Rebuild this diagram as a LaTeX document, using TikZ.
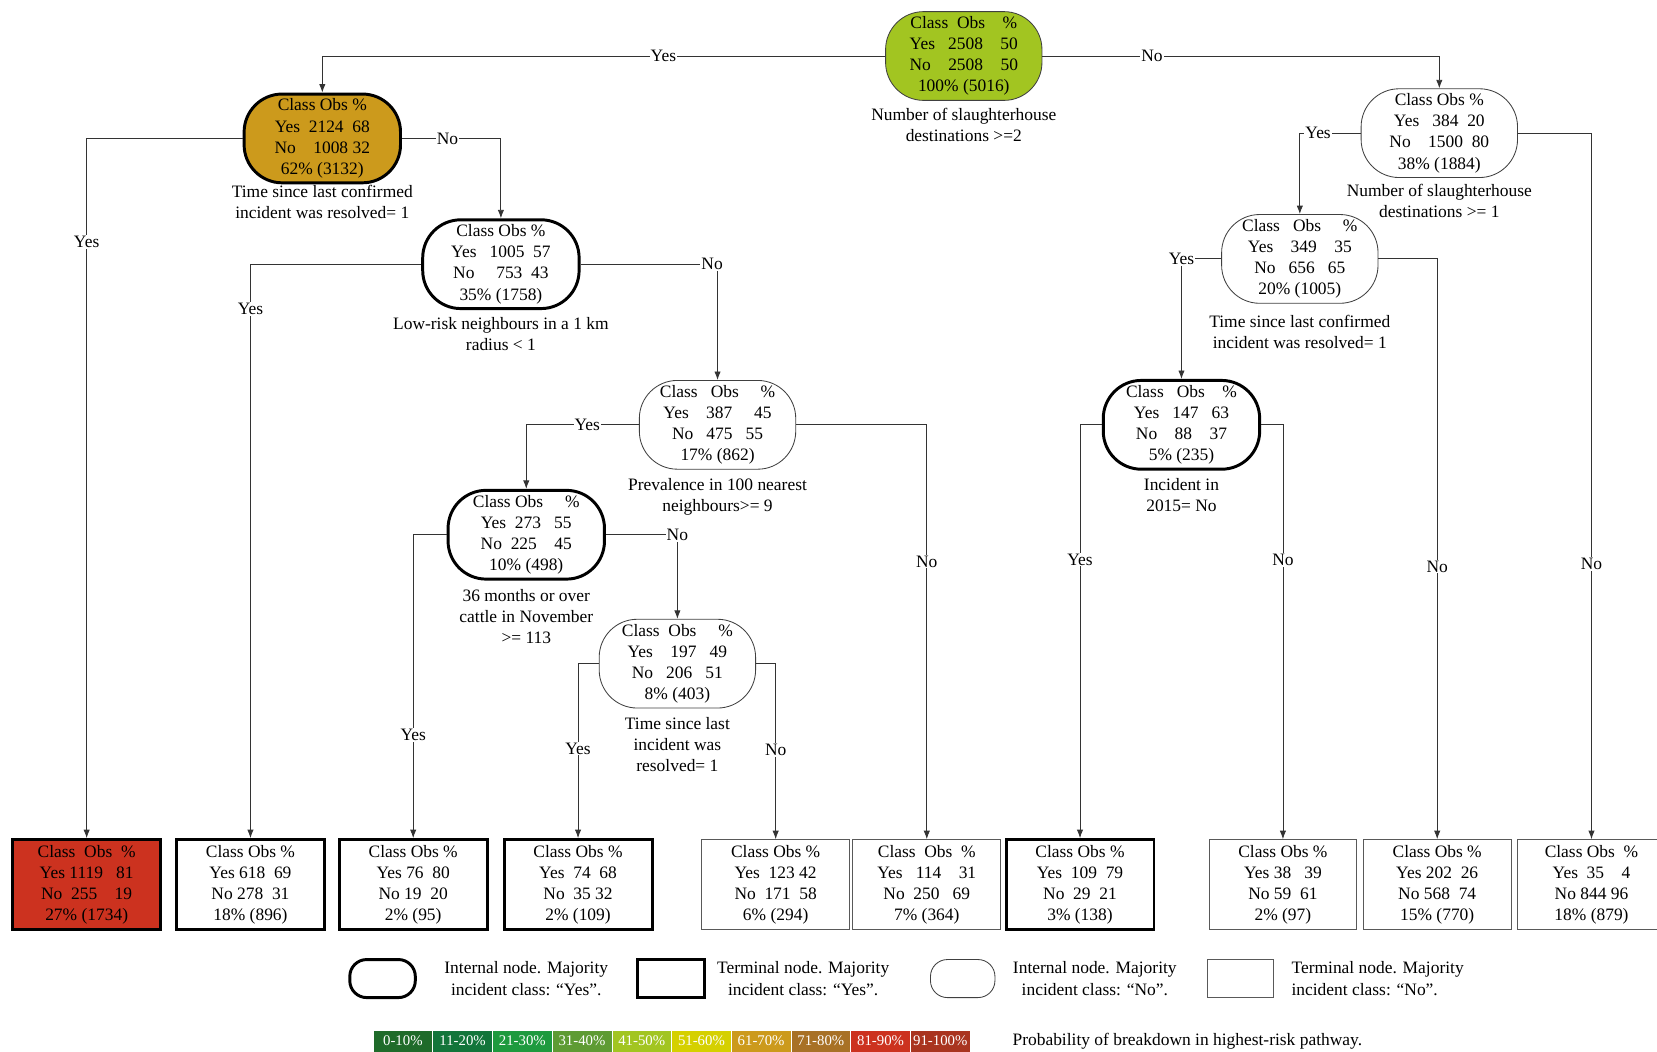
\documentclass[tikz,border=0pt]{standalone}
\usepackage{fontspec}
\setmainfont{Liberation Serif}
\usetikzlibrary{arrows.meta, positioning}
\definecolor{p1}{HTML}{1F6B2A}
\definecolor{p2}{HTML}{12753A}
\definecolor{p3}{HTML}{1E9A3E}
\definecolor{p4}{HTML}{5E9B33}
\definecolor{p5}{HTML}{A2C521}
\definecolor{p6}{HTML}{D5D000}
\definecolor{p7}{HTML}{CC9A1C}
\definecolor{p8}{HTML}{A87126}
\definecolor{p9}{HTML}{CC321F}
\definecolor{p10}{HTML}{A9341F}
\tikzset{
	% internal and terminal nodes
	intyes/.style ={rectangle, rounded corners=36pt, draw=black, line width=2.8pt, minimum width=148pt, minimum height=84pt, align=center, inner sep=1pt},
	intno/.style  ={intyes, line width=0.8pt, draw=black!75},
	termyes/.style={rectangle, draw=black, line width=2.8pt, minimum width=140pt, minimum height=85pt, align=center, inner sep=1pt},
	termno/.style ={termyes, line width=0.8pt, draw=black!65},
	rule/.style   ={align=center, inner sep=0pt},
	link/.style   ={draw=black!80, line width=0.8pt, -{Latex[length=8pt, width=6pt]}},
	ans/.style    ={fill=white, inner sep=1pt},
	% legend
	keytext/.style={align=center, inner sep=0pt},
	cell/.style   ={rectangle, draw=white, line width=0.6pt, minimum width=56.5pt, minimum height=21pt, inner sep=0pt, text=white, font=\fontsize{14}{14}\selectfont},
}
\begin{document}
\begin{tikzpicture}[x=1pt, y=-1pt, font=\fontsize{16.5}{20}\selectfont]
	\useasboundingbox (0,0) rectangle (1568,995);
	% internal nodes
	\node[intno, fill=p5] (root) at (912,53) {Class~~Obs~~~~\%\\Yes~~~2508~~~~50\\No~~~~2508~~~~50\\100\% (5016)};
	\node[intyes, fill=p7] (nA) at (305,131) {Class Obs \%\\Yes~~2124~~68\\No~~~~1008 32\\62\% (3132)};
	\node[intno] (nB) at (1362,126) {Class Obs \%\\Yes~~~384~~20\\No~~~~1500~~80\\38\% (1884)};
	\node[intyes] (nC) at (474,250) {Class Obs \%\\Yes~~~1005~~57\\No~~~~~753~~43\\35\% (1758)};
	\node[intno] (nD) at (679,402) {Class~~~Obs~~~~~\%\\Yes~~~~387~~~~~45\\No~~~475~~~55\\17\% (862)};
	\node[intyes] (nE) at (498,506) {Class~Obs~~~~~\%\\Yes~~273~~~55\\No~~225~~~~45\\10\% (498)};
	\node[intno] (nF) at (641,628) {Class~~Obs~~~~~\%\\Yes~~~~197~~~49\\No~~~206~~~51\\8\% (403)};
	\node[intno] (nG) at (1230,245) {Class~~~Obs~~~~~\%\\Yes~~~~349~~~~35\\No~~~656~~~65\\20\% (1005)};
	\node[intyes] (nH) at (1118,402) {Class~~~Obs~~~~\%\\Yes~~~147~~~63\\No~~~~88~~~~37\\5\% (235)};
	% split rules
	\node[rule, below=7pt of root] (rroot) {Number of slaughterhouse\\destinations >=2};
	\node[rule, below=1pt of nA] (rA) {Time since last confirmed\\incident was resolved= 1};
	\node[rule, below=6pt of nB] (rB) {Number of slaughterhouse\\destinations >= 1};
	\node[rule, below=7pt of nC] (rC) {Low-risk neighbours in a 1 km\\radius < 1};
	\node[rule, below=8pt of nD] (rD) {Prevalence in 100 nearest\\neighbours>= 9};
	\node[rule, below=8pt of nE] (rE) {36 months or over\\cattle in November\\>= 113};
	\node[rule, below=8pt of nF] (rF) {Time since last\\incident was\\resolved= 1};
	\node[rule, below=11pt of nG] (rG) {Time since last confirmed\\incident was resolved= 1};
	\node[rule, below=7pt of nH] (rH) {Incident in\\2015= No};
	% terminal nodes
	\node[termyes, fill=p9] (t1) at (82,837) {Class~~Obs~~\%\\Yes~1119~~~81\\No~~255~~~~19\\27\% (1734)};
	\node[termyes] (t2) at (237,837) {Class Obs \%\\Yes 618~~69\\No 278~~31\\18\% (896)};
	\node[termyes] (t3) at (391,837) {Class Obs \%\\Yes 76~~80\\No 19~~20\\2\% (95)};
	\node[termyes] (t4) at (547,837) {Class Obs \%\\Yes~~74~~68\\No~~35 32\\2\% (109)};
	\node[termno] (t5) at (734,837) {Class Obs \%\\Yes~~123 42\\No~~171~~58\\6\% (294)};
	\node[termno] (t6) at (877,837) {Class~~Obs~~\%\\Yes~~~114~~~~31\\No~~250~~~69\\7\% (364)};
	\node[termyes] (t7) at (1022,837) {Class Obs \%\\Yes~~109~~79\\No~~29~~21\\3\% (138)};
	\node[termno] (t8) at (1214,837) {Class Obs \%\\Yes 38~~~39\\No 59~~61\\2\% (97)};
	\node[termno] (t9) at (1360,837) {Class Obs \%\\Yes 202~~26\\No 568~~74\\15\% (770)};
	\node[termno] (t10) at (1506,837) {Class Obs~~\%\\Yes~~35~~~~4\\No 844 96\\18\% (879)};
	% branches
	\draw[link] (root.west) -| node[ans, pos=0.197] {Yes} (nA.north);
	\draw[link] (root.east) -| node[ans, pos=0.138] {No} (nB.north);
	\draw[link] (nA.west) -| node[ans, pos=0.574] {Yes} (t1.north);
	\draw[link] (nA.east) -| node[ans, pos=0.23] {No} (nC.north);
	\draw[link] (nC.west) -| node[ans, pos=0.539] {Yes} (t2.north);
	\draw[link] (nC.east) -| node[ans, pos=0.48] {No} (nD.north);
	\draw[link] (nD.west) -| node[ans, pos=0.229] {Yes} (nE.north);
	\draw[link] (nD.east) -| node[ans, pos=0.665] {No} (t6.north);
	\draw[link] (nE.west) -| node[ans, pos=0.83] {Yes} (t3.north);
	\draw[link] (nE.east) -| node[ans, pos=0.5] {No} (nF.north);
	\draw[link] (nF.west) -| node[ans, pos=0.743] {Yes} (t4.north);
	\draw[link] (nF.east) -| node[ans, pos=0.745] {No} (t5.north);
	\draw[link] (nB.west) -| node[ans, pos=0.35] {Yes} (nG.north);
	\draw[link] (nB.east) -| node[ans, pos=0.805] {No} (t10.north);
	\draw[link] (nG.west) -| node[ans, pos=0.5] {Yes} (nH.north);
	\draw[link] (nG.east) -| node[ans, pos=0.765] {No} (t9.north);
	\draw[link] (nH.west) -| node[ans, pos=0.663] {Yes} (t7.north);
	\draw[link] (nH.east) -| node[ans, pos=0.663] {No} (t8.north);
	% legend
	\node[intyes, minimum width=62pt, minimum height=36pt, rounded corners=16pt] (keyA) at (362,926) {};
	\node[keytext] (keyAtxt) at (498,926) {Internal node. Majority\\incident class: “Yes”.};
	\node[termyes, minimum width=63pt, minimum height=36pt] (keyB) at (635,926) {};
	\node[keytext] (keyBtxt) at (760,926) {Terminal node. Majority\\incident class: “Yes”.};
	\node[intno, minimum width=61pt, minimum height=36pt, rounded corners=16pt] (keyC) at (911,926) {};
	\node[keytext] (keyCtxt) at (1036,926) {Internal node. Majority\\incident class: “No”.};
	\node[termno, minimum width=62pt, minimum height=36pt] (keyD) at (1174,926) {};
	\node[keytext, align=left, anchor=west] (keyDtxt) at (1222,926) {Terminal node. Majority\\incident class: “No”.};
	\foreach \c/\t [count=\i from 0] in {p1/0-10\%, p2/11-20\%, p3/21-30\%, p4/31-40\%, p5/41-50\%, p6/51-60\%, p7/61-70\%, p8/71-80\%, p9/81-90\%, p10/91-100\%}
		\node[cell, fill=\c] (bar\i) at (381.25+56.5*\i,985) {\t};
	\node[anchor=west, inner sep=0pt] (bartxt) at (958,985) {Probability of breakdown in highest-risk pathway.};
\end{tikzpicture}
\end{document}
